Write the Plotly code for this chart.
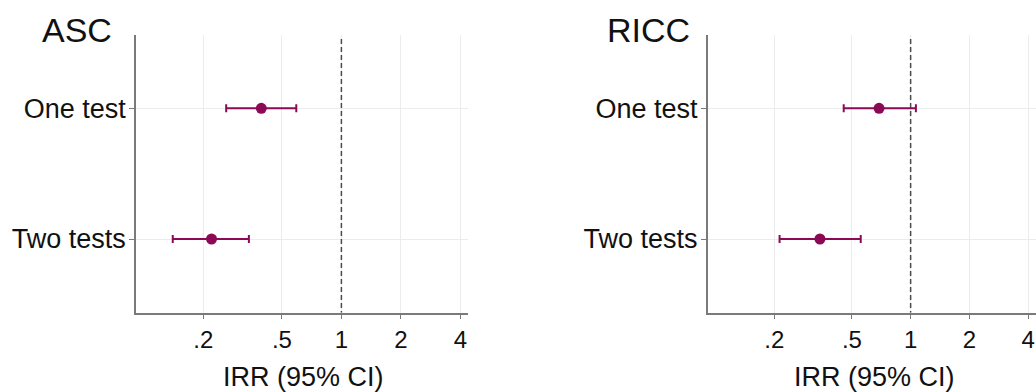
import plotly.graph_objects as go

categories = ["One test", "Two tests"]
asc_irr = [0.393, 0.220]
asc_lo = [0.261, 0.140]
asc_hi = [0.591, 0.340]
ricc_irr = [0.689, 0.343]
ricc_lo = [0.454, 0.213]
ricc_hi = [1.064, 0.555]
panel_titles = ["ASC", "RICC"]
x_tickvals = [0.2, 0.5, 1, 2, 4]
x_ticktext = [".2", ".5", "1", "2", "4"]
x_title = "IRR (95% CI)"

W, H = 1036, 392
FONT = "Liberation Sans, Arial, sans-serif"
COL = "#8c0a55"
AXC = "#7a7a7a"
GRID = "#ececec"

fig = go.Figure()

panels = [(asc_irr, asc_lo, asc_hi, "x", "y"), (ricc_irr, ricc_lo, ricc_hi, "x2", "y2")]

dec = 197.5
left_dom = [136 / W, 468 / W]
right_dom = [707.7 / W, 1.0]
ydom = [1 - 312.7 / H, 1 - 35 / H]

def xrange(px_width):
    lo = -1.04
    return [lo, lo + px_width / dec]

# dashed reference line at IRR = 1
for xa, ya in [("x", "y"), ("x2", "y2")]:
    fig.add_trace(go.Scatter(x=[1, 1], y=[-0.53, 1.564], mode="lines",
                             xaxis=xa, yaxis=ya,
                             line=dict(color="#4a4a4a", width=1.5, dash="5px,3px"),
                             showlegend=False, hoverinfo="skip"))

for irr, lo, hi, xa, ya in panels:
    fig.add_trace(go.Scatter(
        x=irr, y=[0, 1], mode="markers", xaxis=xa, yaxis=ya,
        marker=dict(color=COL, size=11),
        error_x=dict(type="data", symmetric=False,
                     array=[h - v for h, v in zip(hi, irr)],
                     arrayminus=[v - l for v, l in zip(irr, lo)],
                     color=COL, thickness=2, width=4),
        showlegend=False, cliponaxis=False))

xcommon = dict(type="log", tickvals=x_tickvals, ticktext=x_ticktext,
               showgrid=True, gridcolor=GRID, gridwidth=1,
               showline=True, linecolor=AXC, linewidth=1.5,
               ticks="outside", ticklen=5, tickcolor=AXC,
               tickfont=dict(family=FONT, size=24, color="#111"),
               zeroline=False)
ycommon = dict(type="linear", tickvals=[0, 1], ticktext=categories,
               range=[1.564, -0.561], showgrid=True, gridcolor=GRID, gridwidth=1,
               showline=True, linecolor=AXC, linewidth=1.5,
               ticks="outside", ticklen=5, tickcolor=AXC,
               ticklabelstandoff=-2,
               tickfont=dict(family=FONT, size=27, color="#111"),
               zeroline=False)

fig.update_layout(
    width=W, height=H, margin=dict(l=0, r=0, t=0, b=0),
    paper_bgcolor="white", plot_bgcolor="white",
    xaxis=dict(xcommon, domain=left_dom, range=xrange(468 - 136), anchor="y"),
    yaxis=dict(ycommon, domain=ydom, anchor="x"),
    xaxis2=dict(xcommon, domain=right_dom, range=xrange(1040 - 707.7), anchor="y2"),
    yaxis2=dict(ycommon, domain=ydom, anchor="x2"),
)

titles_x = [40 / W, 605 / W]
for t, tx in zip(panel_titles, titles_x):
    fig.add_annotation(text=t, xref="paper", yref="paper", x=tx, y=1 - 30.5 / H,
                       xanchor="left", yanchor="middle", showarrow=False,
                       font=dict(family=FONT, size=34, color="#111"))

for cx in [303 / W, 874 / W]:
    fig.add_annotation(text=x_title, xref="paper", yref="paper", x=cx, y=1 - 377 / H,
                       xanchor="center", yanchor="middle", showarrow=False,
                       font=dict(family=FONT, size=27, color="#111"))

fig.write_html("out.html")
